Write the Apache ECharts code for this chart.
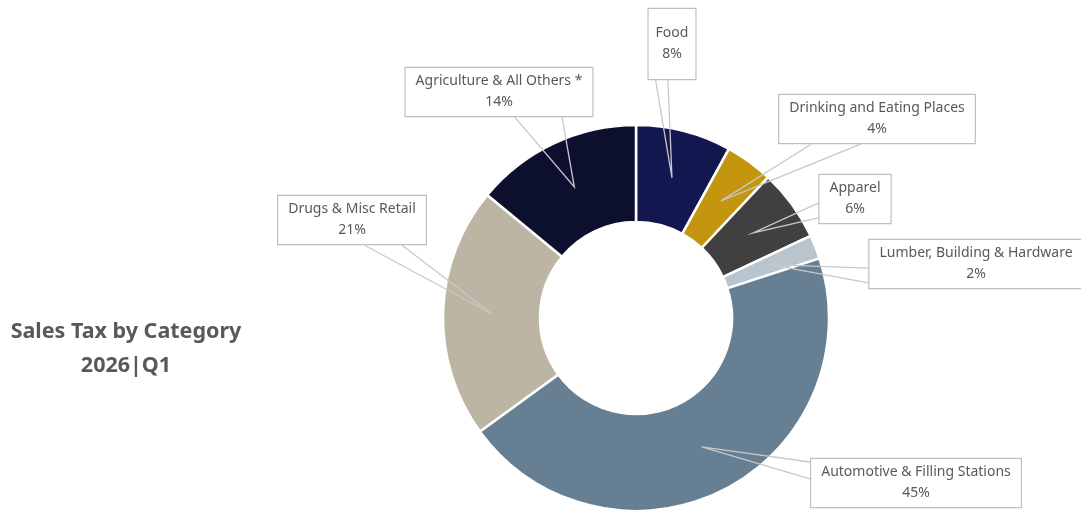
<!DOCTYPE html>
<html>
<head>
<meta charset="utf-8">
<title>Sales Tax by Category</title>
<script src="https://cdn.jsdelivr.net/npm/echarts@6/dist/echarts.min.js"></script>
<style>
  html, body { margin: 0; padding: 0; background: #ffffff; }
  #chart { width: 1081px; height: 511px; }
</style>
</head>
<body>
<div id="chart"></div>
<script>
// Category names, in clockwise order from 12 o'clock
const categories = [
  'Food',
  'Drinking and Eating Places',
  'Apparel',
  'Lumber, Building & Hardware',
  'Automotive & Filling Stations',
  'Drugs & Misc Retail',
  'Agriculture & All Others *'
];
// Share of sales tax, percent
const shares = [8, 4, 6, 2, 45, 21, 14];
// Slice colours
const sliceColors = ['#13174f', '#c4960f', '#404040', '#b9c5ce', '#667f92', '#bdb5a3', '#0d0f2f'];

// Callout box centres (px) and paddings [vertical, horizontal]
const boxCenters = [[672, 44], [877, 119], [855, 199], [976, 264], [916, 483], [352, 220], [499, 92]];
const boxPadding = [[14, 7], [3, 10], [3, 10], [3, 10], [3, 10], [3, 10], [3, 10]];

const CX = 636, CY = 318, R_IN = 96, R_OUT = 193;
const FONT = '"Noto Sans", "Open Sans", sans-serif';

const chart = echarts.init(document.getElementById('chart'), null, { renderer: 'canvas' });

// Pointer geometry of a rectangular callout: the wedge leaves the side
// facing the tip, using roughly a quarter of that side.
function calloutBase(rect, tip) {
  const cx = rect.x + rect.width / 2, cy = rect.y + rect.height / 2;
  const dx = tip[0] - cx, dy = tip[1] - cy;
  if (Math.abs(dx) / rect.width > Math.abs(dy) / rect.height) {
    const ex = dx < 0 ? rect.x : rect.x + rect.width;
    const f = dy < 0 ? [1 / 12, 5 / 12] : [7 / 12, 10.5 / 12];
    return [[ex, rect.y + rect.height * f[0]], [ex, rect.y + rect.height * f[1]]];
  }
  const ey = dy < 0 ? rect.y : rect.y + rect.height;
  const f = dx < 0 ? [2 / 12, 5 / 12] : [7 / 12, 10 / 12];
  return [[rect.x + rect.width * f[0], ey], [rect.x + rect.width * f[1], ey]];
}

function calloutLayout(params) {
  const i = params.dataIndex;
  const w = params.labelRect.width, h = params.labelRect.height;
  const bx = boxCenters[i][0], by = boxCenters[i][1];
  const rect = { x: bx - w / 2, y: by - h / 2, width: w, height: h };
  let p0;
  if (params.labelLinePoints && params.labelLinePoints[0]) {
    p0 = params.labelLinePoints[0];
  } else {
    let before = 0;
    for (let k = 0; k < i; k++) before += shares[k];
    const total = shares.reduce((a, b) => a + b, 0);
    const ang = (90 - (before + shares[i] / 2) / total * 360) * Math.PI / 180;
    p0 = [CX + R_OUT * Math.cos(ang), CY - R_OUT * Math.sin(ang)];
  }
  const rr = Math.hypot(p0[0] - CX, p0[1] - CY) || 1;
  const k = (R_OUT * 0.75) / rr;
  const tip = [CX + (p0[0] - CX) * k, CY + (p0[1] - CY) * k];
  const base = calloutBase(rect, tip);
  return {
    x: bx,
    y: by,
    align: 'center',
    verticalAlign: 'middle',
    labelLinePoints: [base[0], tip, base[1]]
  };
}

const sliceData = categories.map((name, i) => ({
  name: name,
  value: shares[i],
  itemStyle: { color: sliceColors[i] }
}));

const labelData = categories.map((name, i) => ({
  name: name,
  value: shares[i],
  label: { padding: boxPadding[i] }
}));

chart.setOption({
  animation: false,
  title: {
    text: 'Sales Tax by Category\n2026|Q1',
    left: 121,
    top: 310,
    textAlign: 'center',
    textStyle: {
      fontFamily: FONT,
      fontSize: 21.5,
      fontWeight: 'bold',
      color: '#595959',
      lineHeight: 34
    }
  },
  series: [
    {
      // the donut itself
      type: 'pie',
      z: 2,
      center: [CX, CY],
      radius: [R_IN, R_OUT],
      startAngle: 90,
      clockwise: true,
      silent: true,
      itemStyle: { borderColor: '#ffffff', borderWidth: 2.5 },
      label: { show: false },
      labelLine: { show: false },
      data: sliceData
    },
    {
      // callouts drawn above the donut so pointers reach into the slices
      type: 'pie',
      z: 3,
      center: [CX, CY],
      radius: [R_IN, R_OUT],
      startAngle: 90,
      clockwise: true,
      silent: true,
      avoidLabelOverlap: false,
      itemStyle: { color: 'rgba(0,0,0,0)', borderWidth: 0 },
      label: {
        show: true,
        position: 'outside',
        formatter: '{b}\n{c}%',
        fontFamily: FONT,
        fontSize: 14,
        lineHeight: 21,
        color: '#595959',
        align: 'center',
        backgroundColor: '#ffffff',
        borderColor: '#bfbfbf',
        borderWidth: 1.2
      },
      labelLine: {
        show: true,
        length: 10,
        length2: 10,
        lineStyle: { color: '#c8c8c8', width: 1.3 }
      },
      labelLayout: calloutLayout,
      data: labelData
    }
  ]
});
</script>
</body>
</html>
